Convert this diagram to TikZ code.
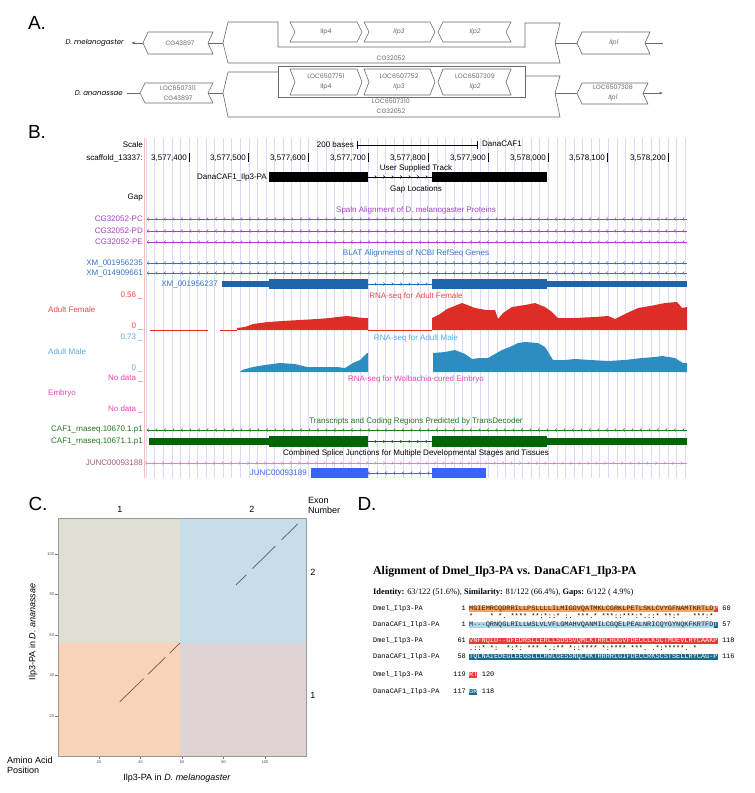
\documentclass[tikz,border=0pt]{standalone}
\usepackage{fontspec}
\setmainfont{Liberation Sans}
\setmonofont{Liberation Mono}
\newfontfamily\alnfont{Liberation Serif}
\newfontfamily\mapfont{Poppins}
\usetikzlibrary{arrows.meta,decorations.markings,positioning}

\definecolor{mapgray}{RGB}{105,105,105}
\definecolor{gridblue}{RGB}{218,218,250}
\definecolor{rulepink}{RGB}{255,185,185}
\definecolor{spaln}{RGB}{165,65,195}
\definecolor{blat}{RGB}{55,115,195}
\definecolor{refgene}{RGB}{30,100,170}
\definecolor{femred}{RGB}{222,45,38}
\definecolor{femtext}{RGB}{235,70,70}
\definecolor{malblue}{RGB}{45,140,192}
\definecolor{maltext}{RGB}{90,170,220}
\definecolor{embpink}{RGB}{230,70,180}
\definecolor{tdgreen}{RGB}{30,120,30}
\definecolor{tdgene}{RGB}{0,100,0}
\definecolor{juncmauve}{RGB}{160,90,130}
\definecolor{juncpink}{RGB}{225,130,190}
\definecolor{juncblue}{RGB}{55,100,250}
\definecolor{qTL}{RGB}{224,221,210}
\definecolor{qTR}{RGB}{198,222,233}
\definecolor{qBL}{RGB}{249,210,186}
\definecolor{qBR}{RGB}{222,212,212}
\definecolor{dotLL}{RGB}{130,80,60}
\definecolor{dotUR}{RGB}{80,95,105}
\definecolor{dmelA}{RGB}{244,165,95}
\definecolor{dmelB}{RGB}{236,58,55}
\definecolor{danaA}{RGB}{172,216,240}
\definecolor{danaB}{RGB}{26,106,140}
\definecolor{seqdark}{RGB}{60,35,20}

\newcommand{\generight}[4]{\draw [genebox] (#1,#3)--({#2-5},#3)--(#2,{(#3+#4)/2})--({#2-5},#4)--(#1,#4)--({#1+5},{(#3+#4)/2})--cycle;}
\newcommand{\geneleft}[4]{\draw [genebox] ({#1+5},#3)--(#2,#3)--({#2-5},{(#3+#4)/2})--(#2,#4)--({#1+5},#4)--(#1,{(#3+#4)/2})--cycle;}

\tikzset{
  genebox/.style={draw=mapgray,line width=0.6pt,fill=white},
  genelbl/.style={font=\mapfont\fontsize{6.3}{9.5}\selectfont,text=mapgray,inner sep=0pt,align=center},
  species/.style={font=\mapfont\itshape\fontsize{7}{8}\selectfont,inner sep=0pt,anchor=east},
  panel/.style={font=\fontsize{19}{20}\selectfont,inner sep=0pt},
  ucsc/.style={font=\fontsize{8}{9}\selectfont,inner sep=0pt},
  lbl/.style={ucsc,anchor=east},
  side/.style={ucsc,anchor=west},
  strandL/.style={line width=0.6pt,postaction={decorate,decoration={markings,mark=between positions 0 and 1 step 8.5pt with {\arrowreversed{Straight Barb[length=1.3pt,width=3pt]}}}}},
  strandR/.style={line width=0.6pt,postaction={decorate,decoration={markings,mark=between positions 0 and 1 step 8.5pt with {\arrow{Straight Barb[length=1.3pt,width=3pt]}}}}},
  plotlbl/.style={font=\fontsize{9}{10.5}\selectfont,inner sep=0pt},
  tinytick/.style={font=\fontsize{4}{4}\selectfont,text=black!70,inner sep=0pt},
  seqtxt/.style={font=\ttfamily\frenchspacing\fontsize{6.9}{7}\selectfont,inner sep=0pt,text height=4.6pt,text depth=1.4pt},
  seqname/.style={seqtxt,anchor=west},
}

\begin{document}
\begin{tikzpicture}[x=1pt,y=-1pt]
    \useasboundingbox (0,0) rectangle (755,793);

    % A
    \node[panel] (pA) at (37,23) {A.};

    \node[species] (mel) at (124,43) {D. melanogaster};
    \coordinate (melend) at (131,43);
    \geneleft{143}{213}{32}{54}
    \node[genelbl] (cgA) at (180,43) {CG43897};
    \coordinate (cgAtip) at (143,43);
    \coordinate (cgAtail) at (208,43);
    \draw [-{Latex[length=3.5pt,width=3pt]},mapgray,line width=0.6pt] (cgAtip)--(melend);
    \draw [genebox] (228,22)--(278,22)--(278,47)--(525,47)--(525,23)--(560,23)--(555,43)--(560,63)--(228,63)--(223,43)--cycle;
    \coordinate (bigAw) at (223,43);
    \coordinate (bigAe) at (555,43);
    \draw [mapgray,line width=0.6pt] (cgAtail)--(bigAw);
    \generight{290}{362}{22}{42}
    \node[genelbl] (ilp4A) at (326,32) {Ilp4};
    \generight{364}{435}{22}{42}
    \node[genelbl] (ilp3A) at (399,32) {\itshape Ilp3};
    \geneleft{438}{511}{22}{42}
    \node[genelbl] (ilp2A) at (475,32) {\itshape Ilp2};
    \node[genelbl] (hostA) at (391,58) {CG32052};
    \geneleft{577}{650}{32}{54}
    \node[genelbl] (ilp1A) at (614,43) {\itshape Ilp1};
    \coordinate (ilp1Atip) at (577,43);
    \coordinate (ilp1Atail) at (645,43);
    \coordinate (endA) at (663,43);
    \draw [mapgray,line width=0.6pt] (bigAe)--(ilp1Atip);
    \draw [mapgray,line width=0.6pt] (ilp1Atail)--(endA);

    \node[species] (ana) at (123,93) {D. ananassae};
    \geneleft{140}{213}{83}{103}
    \node[genelbl] (cgB) at (178,93) {LOC6507311\\CG43897};
    \coordinate (cgBtip) at (140,93);
    \coordinate (cgBtail) at (208,93);
    \draw [mapgray,line width=0.6pt] ([xshift=4pt]ana.east)--(cgBtip);
    \draw [mapgray,line width=0.6pt] (278,66) rectangle (525,97);
    \draw [genebox,fill=none] (278,72)--(228,72)--(223,93)--(228,117)--(560,117)--(555,93)--(560,76)--(525,76);
    \coordinate (bigBw) at (223,93);
    \coordinate (bigBe) at (555,93);
    \draw [mapgray,line width=0.6pt] (cgBtail)--(bigBw);
    \generight{290}{362}{69}{95}
    \node[genelbl] (ilp4B) at (326,82) {LOC6507751\\Ilp4};
    \generight{364}{435}{69}{95}
    \node[genelbl] (ilp3B) at (399,82) {LOC6507752\\\itshape Ilp3};
    \geneleft{438}{511}{69}{95}
    \node[genelbl] (ilp2B) at (475,82) {LOC6507309\\\itshape Ilp2};
    \node[genelbl] (hostB) at (391,106) {LOC6507310\\CG32052};
    \geneleft{577}{648}{83}{104}
    \node[genelbl] (ilp1B) at (613,93) {LOC6507308\\\itshape Ilp1};
    \coordinate (ilp1Btip) at (577,93);
    \coordinate (ilp1Btail) at (643,93);
    \coordinate (endB) at (663,93);
    \draw [mapgray,line width=0.6pt] (bigBe)--(ilp1Btip);
    \draw [-{Latex[length=3.5pt,width=3pt]},mapgray,line width=0.6pt] (ilp1Btail)--(endB);

    % B
    \node[panel] (pB) at (37,132) {B.};
    \foreach \k in {-5,...,58}
        \draw [gridblue,line width=0.7pt] ({189+\k*8.557},138)--({189+\k*8.557},478);
    \draw [rulepink,line width=0.8pt] (144,138)--(144,478);

    \node[lbl] (tScale) at (143,145) {Scale};
    \node[lbl] (tBases) at (354,145) {200 bases};
    \draw [line width=0.5pt] (357,141)--(357,149) (357,145)--(477,145) (477,141)--(477,149);
    \node[side] (tAsm) at (482,144) {DanaCAF1};
    \node[lbl] (tScaf) at (143,158) {scaffold\_13337:};
    \foreach \p/\lab [count=\i] in {189/{3,577,400},248/{3,577,500},308/{3,577,600},368/{3,577,700},428/{3,577,800},488/{3,577,900},548/{3,578,000},607/{3,578,100},668/{3,578,200}} {
        \node[lbl] (tPos\i) at ({\p-2},158) {\lab};
        \draw [line width=0.6pt] (\p,153)--(\p,162);
    }

    \node[ucsc] (tUser) at (416,168) {User Supplied Track};
    \node[lbl] (gIlp) at (267,177) {DanaCAF1\_Ilp3-PA};
    \fill (269,172) rectangle (368,182);
    \draw [strandR] (368,177)--(432,177);
    \fill (432,172) rectangle (547,182);
    \node[ucsc] (tGap) at (416,189) {Gap Locations};
    \node[lbl] (lGap) at (143,198) {Gap};

    \node[ucsc,text=spaln] (tSpaln) at (416,210) {Spaln Alignment of D. melanogaster Proteins};
    \foreach \y/\lab in {219/PC,231/PD,242/PE} {
        \node[lbl,text=spaln] (lSp\lab) at (143,\y) {CG32052-\lab};
        \draw [strandL,spaln] (147,\y)--(687,\y);
    }

    \node[ucsc,text=blat] (tBlat) at (416,253) {BLAT Alignments of NCBI RefSeq Genes};
    \foreach \y/\lab in {263/001956235,273/014909661} {
        \node[lbl,text=blat] (lXM\lab) at (143,\y) {XM\_\lab};
        \draw [strandL,blat] (147,\y)--(687,\y);
    }
    \node[lbl,text=blat] (gXM) at (218,284) {XM\_001956237};
    \fill [refgene] (222,281) rectangle (269,287);
    \fill [refgene] (269,279) rectangle (368,289);
    \draw [strandR,refgene] (368,284)--(432,284);
    \fill [refgene] (432,279) rectangle (547,289);
    \fill [refgene] (547,281) rectangle (687,287);

    \node[ucsc,text=femtext] (tFem) at (416,296) {RNA-seq for Adult Female};
    \node[lbl,text=femtext] (lFemMax) at (143,295) {0.56 \_};
    \node[side,text=femtext] (lFem) at (48,310) {Adult Female};
    \node[lbl,text=femtext] (lFemMin) at (143,326) {0 \_};
    \draw [femred,line width=1pt] (150,330)--(208,330) (220,330)--(237,330) (368,330)--(432,330);
    \fill [femred] (237,330)--(237,328)--(245,327)--(253,324)--(268,322)--(283,321)--(300,320)--(317,319)--(330,318)--(337,317)--(347,316)--(355,317)--(363,318)--(368,318)--(368,330)--cycle;
    \fill [femred] (432,330)--(432,318)--(440,314)--(447,309)--(452,307)--(462,303)--(470,306)--(475,308)--(486,310)--(495,310)--(498,319)--(503,313)--(512,307)--(525,305)--(535,303)--(545,307)--(552,312)--(558,318)--(575,318)--(595,317)--(608,316)--(615,319)--(625,314)--(638,308)--(650,306)--(665,303)--(677,302)--(682,308)--(687,307)--(687,330)--cycle;

    \node[ucsc,text=maltext] (tMal) at (416,338) {RNA-seq for Adult Male};
    \node[lbl,text=maltext] (lMalMax) at (143,337) {0.73 \_};
    \node[side,text=maltext] (lMal) at (48,352) {Adult Male};
    \node[lbl,text=maltext] (lMalMin) at (143,368) {0 \_};
    \fill [malblue] (240,372)--(242,370)--(253,367)--(265,365)--(280,363)--(295,364)--(307,367)--(320,367)--(337,367)--(345,368)--(353,363)--(360,360)--(367,353)--(368,353)--(368,372)--cycle;
    \fill [malblue] (433,372)--(433,353)--(445,352)--(455,350)--(465,354)--(472,359)--(480,358)--(488,358)--(495,354)--(502,350)--(512,346)--(518,343)--(525,342)--(538,343)--(545,347)--(553,360)--(565,360)--(575,359)--(590,360)--(608,361)--(625,360)--(642,358)--(655,357)--(662,356)--(675,358)--(683,363)--(687,363)--(687,372)--cycle;

    \node[ucsc,text=embpink] (tEmb) at (416,379) {RNA-seq for Wolbachia-cured Embryo};
    \node[lbl,text=embpink] (lEmbMax) at (143,378) {No data \_};
    \node[side,text=embpink] (lEmb) at (48,393) {Embryo};
    \node[lbl,text=embpink] (lEmbMin) at (143,409) {No data \_};

    \node[ucsc,text=tdgreen] (tTD) at (416,421) {Transcripts and Coding Regions Predicted by TransDecoder};
    \node[lbl,text=tdgreen] (lTD0) at (143,430) {CAF1\_rnaseq.10670.1.p1};
    \draw [strandL,tdgreen] (147,430)--(687,430);
    \node[lbl,text=tdgreen] (lTD1) at (143,442) {CAF1\_rnaseq.10671.1.p1};
    \fill [tdgene] (149,438) rectangle (269,445);
    \fill [tdgene] (269,436) rectangle (368,447);
    \draw [strandR,tdgene] (368,441.5)--(432,441.5);
    \fill [tdgene] (432,436) rectangle (547,447);
    \fill [tdgene] (547,438) rectangle (687,445);

    \node[ucsc] (tJunc) at (416,453) {Combined Splice Junctions for Multiple Developmental Stages and Tissues};
    \node[lbl,text=juncmauve] (lJ88) at (143,463) {JUNC00093188};
    \draw [strandR,juncpink] (147,463)--(687,463);
    \node[lbl,text=juncblue] (gJ89) at (307,473) {JUNC00093189};
    \fill [juncblue] (311,468) rectangle (368,478);
    \draw [strandL,juncblue] (368,473)--(432,473);
    \fill [juncblue] (432,468) rectangle (486,478);

    % C
    \node[panel] (pC) at (38,504) {C.};
    \node[plotlbl] (ex1) at (120,509) {1};
    \node[plotlbl] (ex2) at (252,509) {2};
    \node[plotlbl,anchor=west,align=left] (exN) at (308,505.5) {Exon\\Number};
    \fill [qTL] (58,518) rectangle (180,643);
    \fill [qTR] (180,518) rectangle (306,643);
    \fill [qBL] (58,643) rectangle (180,756);
    \fill [qBR] (180,643) rectangle (306,756);
    \draw [black!40,line width=0.6pt] (58,518) rectangle (306,756);
    \node[plotlbl] (ex2r) at (313,572) {2};
    \node[plotlbl] (ex1r) at (313,695) {1};
    \begin{scope}[shift={(57.5,756.5)},x=2.075pt,y=2.025pt]
        \foreach \v in {20,40,...,100} {
            \draw [black!50,line width=0.4pt] (-1.3,\v)--(0,\v);
            \node[tinytick,anchor=east] (yt\v) at (-1.6,\v) {\v};
            \draw [black!50,line width=0.4pt] (\v,0)--(\v,-1.2);
            \node[tinytick] (xt\v) at (\v,-2.8) {\v};
        }
        \draw [dotLL,line width=0.7pt] (30,27)--(41.5,38.5) (43.5,40.5)--(52,49) (54,51)--(59,56);
        \draw [dotUR,line width=0.7pt] (86,84.7)--(91,89.7) (94,92.8)--(105,103.9) (108,107)--(115.7,114.8);
    \end{scope}
    \node[plotlbl,rotate=90] (yaxis) at (33,632) {Ilp3-PA in \textit{D. ananassae}};
    \node[plotlbl] (xaxis) at (177,778) {Ilp3-PA in \textit{D. melanogaster}};
    \node[plotlbl,anchor=west,align=left] (aapos) at (7,765.5) {Amino Acid\\Position};

    % D
    \node[panel] (pD) at (367,504) {D.};
    \node[font=\alnfont\bfseries\fontsize{11.8}{13}\selectfont,inner sep=0pt,anchor=west] (alnTitle) at (373,572) {Alignment of Dmel\_Ilp3-PA vs. DanaCAF1\_Ilp3-PA};
    \node[font=\alnfont\fontsize{8.4}{9}\selectfont,inner sep=0pt,anchor=west] (alnStats) at (373,592) {\textbf{Identity:} 63/122 (51.6\%), \textbf{Similarity:} 81/122 (66.4\%), \textbf{Gaps:} 6/122 ( 4.9\%)};

    \node[seqname] (n1) at (373,609) {Dmel\_Ilp3-PA};
    \node[seqtxt,fill=dmelA,text=seqdark,anchor=west] (s1) at (469,609) {MGIEMRCQDRRILLPSLLLLILMIGGVQATMKLCGRKLPETLSKLCVYGFNAMTKRTLD};
    \node[seqtxt,fill=dmelB,text=white,right=0pt of s1] (s1e) {P};
    \node[seqtxt,left=3pt of s1] (a1) {1};
    \node[seqtxt,right=4pt of s1e] (b1) {60};
    \node[seqtxt,anchor=west] (c1) at (469,617) {*~~~~*~*.~****~**:*::*~:.~***.*~***::***:*.::*~**:*~~~***:*~};
    \node[seqname] (n2) at (373,625) {DanaCAF1\_Ilp3-PA};
    \node[seqtxt,fill=danaA,text=black!85,anchor=west] (s2) at (469,625) {M---QRNQGLRILLWSLVLVFLGMAHVQANMILCGQELPEALNRICQYGYNQKFKRTFD};
    \node[seqtxt,fill=danaB,text=white,right=0pt of s2] (s2e) {T};
    \node[seqtxt,left=3pt of s2] (a2) {1};
    \node[seqtxt,right=4pt of s2e] (b2) {57};

    \node[seqname] (n3) at (373,641) {Dmel\_Ilp3-PA};
    \node[seqtxt,fill=dmelB,text=white,anchor=west] (s3) at (469,641) {VNFNQID--GFEDRSLLERLLSDSSVQMLKTRRLRDGVFDECCLKSCTMDEVLRYCAAKP};
    \node[seqtxt,left=3pt of s3] (a3) {61};
    \node[seqtxt,right=4pt of s3] (b3) {118};
    \node[seqtxt,anchor=west] (c2) at (469,649) {.::*~*:~~*:*:~***~*.:**~*::****~*:****~***.~.*:*****.~*};
    \node[seqname] (n4) at (373,657) {DanaCAF1\_Ilp3-PA};
    \node[seqtxt,fill=danaB,text=white,anchor=west] (s4) at (469,657) {TQLNAIEDEGLEEGSLLLRWLGESSNQLMKTRRRRLGIFDECCRKSCSTSELLRYCAG-P};
    \node[seqtxt,left=3pt of s4] (a4) {58};
    \node[seqtxt,right=4pt of s4] (b4) {116};

    \node[seqname] (n5) at (373,675) {Dmel\_Ilp3-PA};
    \node[seqtxt,fill=dmelB,text=white,anchor=west] (s5) at (469,675) {RT};
    \node[seqtxt,left=3pt of s5] (a5) {119};
    \node[seqtxt,right=4pt of s5] (b5) {120};
    \node[seqname] (n6) at (373,692) {DanaCAF1\_Ilp3-PA};
    \node[seqtxt,fill=danaB,text=white,anchor=west] (s6) at (469,692) {GR};
    \node[seqtxt,left=3pt of s6] (a6) {117};
    \node[seqtxt,right=4pt of s6] (b6) {118};
\end{tikzpicture}
\end{document}
